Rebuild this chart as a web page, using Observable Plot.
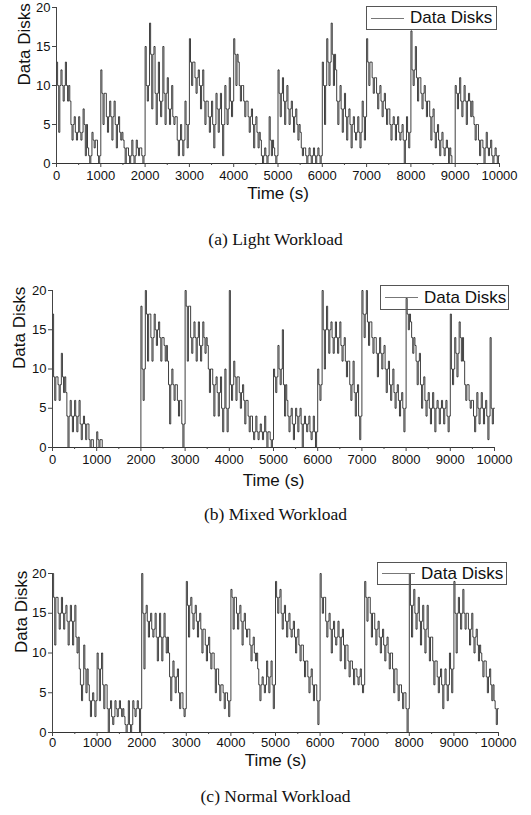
<!DOCTYPE html>
<html>
<head>
<meta charset="utf-8">
<script src="https://cdn.jsdelivr.net/npm/d3@7"></script>
<script src="https://cdn.jsdelivr.net/npm/@observablehq/plot@0.6"></script>
<style>
  html, body { margin: 0; padding: 0; background: #fff; }
  #page { position: relative; width: 531px; height: 815px; overflow: hidden; }
  .panel { position: absolute; left: 0; }
  .caption { position: absolute; left: 0; width: 551px; text-align: center;
    font-family: "Liberation Serif", "DejaVu Serif", serif; font-size: 17.5px; color: #111; }
  .legend { position: absolute; border: 1px solid #555; box-sizing: border-box;
    font-family: "Liberation Sans", Arial, sans-serif; font-size: 17px; color: #111;
    display: flex; align-items: center; }
  .legend .swatch { display: inline-block; width: 33px; height: 0; border-top: 1px solid #777; margin: 0 6px 0 4px; }
</style>
</head>
<body>
<div id="page"></div>
<script>
// Time bins (s) — each bin is 100 s wide
const binStarts = d3.range(0, 10000, 100);
const xTicks = [0,1000,2000,3000,4000,5000,6000,7000,8000,9000,10000];
const xMinor = [500,1500,2500,3500,4500,5500,6500,7500,8500,9500];
const yTicks = [0,5,10,15,20];

// (a) Light Workload: upper / typical / lower number of data disks in each 100 s bin
const lightHi = [13,12,13,8,6,6,7,2,4,3, 12,9,8,8,6,3,2,3,3,2, 15,18,15,13,15,11,10,6,5,8,
  16,13,12,12,8,8,9,9,10,11, 16,13,10,8,7,6,3,2,6,2, 12,11,10,8,7,4,2,2,2,2,
  13,16,18,12,10,9,7,6,6,8, 16,13,11,10,9,7,6,6,5,6, 17,15,11,10,8,7,5,4,3,1,
  10,11,10,9,6,5,3,4,3,2];
const lightMid = [10,10,10,5,4,4,5,1,3,1, 9,6,6,5,4,2,1,1,2,1, 10,14,9,8,9,7,6,3,3,5,
  13,11,10,8,6,5,7,5,7,8, 14,10,8,6,5,4,1,1,3,1, 9,8,7,6,5,2,1,1,1,1,
  10,13,14,8,7,6,5,4,4,6, 13,11,9,8,7,5,5,4,3,4, 12,11,9,8,6,4,3,2,2,0,
  9,8,8,8,5,3,2,2,1,1];
const lightLo = [4,8,8,3,3,3,1,0,2,0, 5,4,3,2,3,0,0,0,1,0, 8,7,5,6,5,5,5,1,1,2,
  10,9,7,5,4,2,4,1,5,6, 10,8,6,4,2,2,0,0,1,0, 6,5,5,4,3,1,0,0,0,0,
  5,10,10,5,4,3,2,3,2,3, 10,9,7,6,5,3,3,3,0,2, 10,8,7,6,3,2,1,1,0,0,
  7,6,5,6,3,1,0,1,0,0];

// (b) Mixed Workload
const mixedHi = [17,9,12,7,6,6,6,4,3,1, 2,1,0,0,0,0,0,0,0,0, 18,20,17,17,16,14,11,10,8,6,
  20,18,16,16,16,13,10,9,9,10, 20,11,9,8,6,4,4,3,4,2, 10,13,15,6,5,5,5,4,4,4,
  10,20,18,16,16,16,14,11,11,8, 20,20,16,14,14,13,11,10,8,7, 19,16,13,12,9,7,7,6,6,6,
  17,14,16,11,8,6,7,7,6,14];
const mixedMid = [9,8,9,4,4,4,3,3,1,0, 1,0,0,0,0,0,0,0,0,0, 10,17,14,15,14,13,8,8,6,3,
  18,14,14,13,14,10,8,7,5,5, 8,9,7,6,4,2,2,2,2,1, 9,10,8,4,3,4,3,3,2,2,
  8,15,15,14,14,13,11,8,7,4, 17,16,14,12,12,10,8,7,6,5, 17,14,11,8,6,5,5,5,5,4,
  10,12,14,8,6,4,5,5,4,5];
const mixedLo = [6,6,7,0,2,2,1,1,0,0, 0,0,0,0,0,0,0,0,0,0, 6,11,11,13,11,11,3,6,4,0,
  11,12,11,11,12,7,4,4,2,2, 6,6,5,3,2,1,1,1,0,0, 7,8,4,2,1,2,0,2,1,0,
  6,10,12,12,12,11,9,6,4,1, 14,13,12,9,10,7,6,5,4,2, 15,12,8,5,4,3,2,3,3,2,
  8,9,11,6,5,2,3,3,1,3];

// (c) Normal Workload
const normalHi = [20,17,17,16,16,16,8,11,6,5, 10,10,6,4,4,4,2,4,4,4, 20,16,15,15,15,15,10,9,8,5,
  19,17,16,15,13,12,10,8,6,5, 18,17,16,15,13,12,8,7,9,9, 19,18,16,15,14,13,11,9,8,6,
  20,17,15,14,14,13,11,9,8,8, 19,17,15,14,13,12,10,8,6,5, 20,18,17,16,16,12,9,8,8,10,
  19,17,18,15,15,13,10,9,8,4];
const normalMid = [17,15,15,14,14,12,6,8,4,4, 8,6,3,2,3,3,1,1,3,3, 15,14,13,12,12,12,7,7,5,3,
  16,15,14,13,11,10,8,6,5,4, 17,15,14,13,11,10,6,6,7,6, 17,15,14,13,12,11,9,7,6,4,
  17,14,13,12,12,11,9,8,7,6, 17,15,13,12,11,10,8,6,5,3, 16,15,14,13,12,9,7,6,6,8,
  15,15,15,13,12,11,9,7,6,3];
const normalLo = [11,13,13,11,11,10,4,5,2,2, 4,3,0,1,2,2,0,0,2,0, 8,12,12,9,9,10,4,5,3,2,
  12,13,12,10,9,8,5,4,3,2, 13,13,11,12,9,9,4,5,5,3, 15,13,12,12,10,9,7,5,4,1,
  15,12,10,11,9,8,7,6,6,5, 14,12,11,10,9,8,5,4,3,0, 12,13,11,10,9,6,5,3,4,5,
  10,13,13,11,10,9,7,5,4,1];

function series(hi, mid, lo) {
  const out = [];
  binStarts.forEach((t, i) => {
    out.push({t, v: hi[i]});
    out.push({t: t + 25, v: mid[i]});
    out.push({t: t + 50, v: lo[i]});
    out.push({t: t + 75, v: mid[i]});
  });
  out.push({t: 10000, v: mid[mid.length - 1]});
  return out;
}

const panels = [
  {hi: lightHi, mid: lightMid, lo: lightLo, top: 0, height: 206, mt: 7, mb: 43, ml: 56, mr: 32,
   tickPad: 3, xlab: 30, ylab: -32, caption: "(a) Light Workload", capTop: 229,
   legend: {left: 366, top: 6, w: 131, h: 24}},
  {hi: mixedHi, mid: mixedMid, lo: mixedLo, top: 280, height: 210, mt: 10, mb: 43, ml: 52, mr: 37,
   tickPad: 3, xlab: 33, ylab: -33, caption: "(b) Mixed Workload", capTop: 504,
   legend: {left: 380, top: 285, w: 129, h: 25}},
  {hi: normalHi, mid: normalMid, lo: normalLo, top: 560, height: 215, mt: 13, mb: 43, ml: 52, mr: 33,
   tickPad: 1, xlab: 28, ylab: -31, caption: "(c) Normal Workload", capTop: 786,
   legend: {left: 377, top: 562, w: 130, h: 23}}
];

const page = document.getElementById("page");

for (const p of panels) {
  const data = series(p.hi, p.mid, p.lo);
  const chart = Plot.plot({
    width: 531,
    height: p.height,
    marginTop: p.mt, marginBottom: p.mb, marginLeft: p.ml, marginRight: p.mr,
    x: {domain: [0, 10000]},
    y: {domain: [0, 20]},
    style: {fontFamily: "'Liberation Sans', Arial, sans-serif", fontSize: "13px", color: "#111", background: "transparent"},
    marks: [
      Plot.line(data, {x: "t", y: "v", curve: "step-after", stroke: "#1e1e1e", strokeWidth: 0.85}),
      Plot.ruleX([0], {stroke: "#444", strokeWidth: 1}),
      Plot.ruleY([0], {stroke: "#333", strokeWidth: 1.2}),
      Plot.axisX({ticks: xTicks, tickSize: 4, tickPadding: p.tickPad, tickFormat: d => String(d), label: null, stroke: "#444"}),
      Plot.axisX({ticks: xMinor, tickSize: 2, tickFormat: () => "", label: null, stroke: "#444"}),
      Plot.axisY({ticks: yTicks, tickSize: 4, tickPadding: 2, tickFormat: d => String(d), label: null, stroke: "#444"}),
      Plot.text(["Time (s)"], {frameAnchor: "bottom", dy: p.xlab, lineAnchor: "middle", fontSize: 17, fill: "#111"}),
      Plot.text(["Data Disks"], {frameAnchor: "left", dx: p.ylab, rotate: -90, lineAnchor: "middle", fontSize: 17, fill: "#111"})
    ]
  });
  chart.classList.add("panel");
  chart.style.top = p.top + "px";
  page.appendChild(chart);

  const lg = document.createElement("div");
  lg.className = "legend";
  lg.style.left = p.legend.left + "px";
  lg.style.top = p.legend.top + "px";
  lg.style.width = p.legend.w + "px";
  lg.style.height = p.legend.h + "px";
  lg.innerHTML = '<span class="swatch"></span><span>Data Disks</span>';
  page.appendChild(lg);

  const cap = document.createElement("div");
  cap.className = "caption";
  cap.style.top = p.capTop + "px";
  cap.textContent = p.caption;
  page.appendChild(cap);
}
</script>
</body>
</html>
